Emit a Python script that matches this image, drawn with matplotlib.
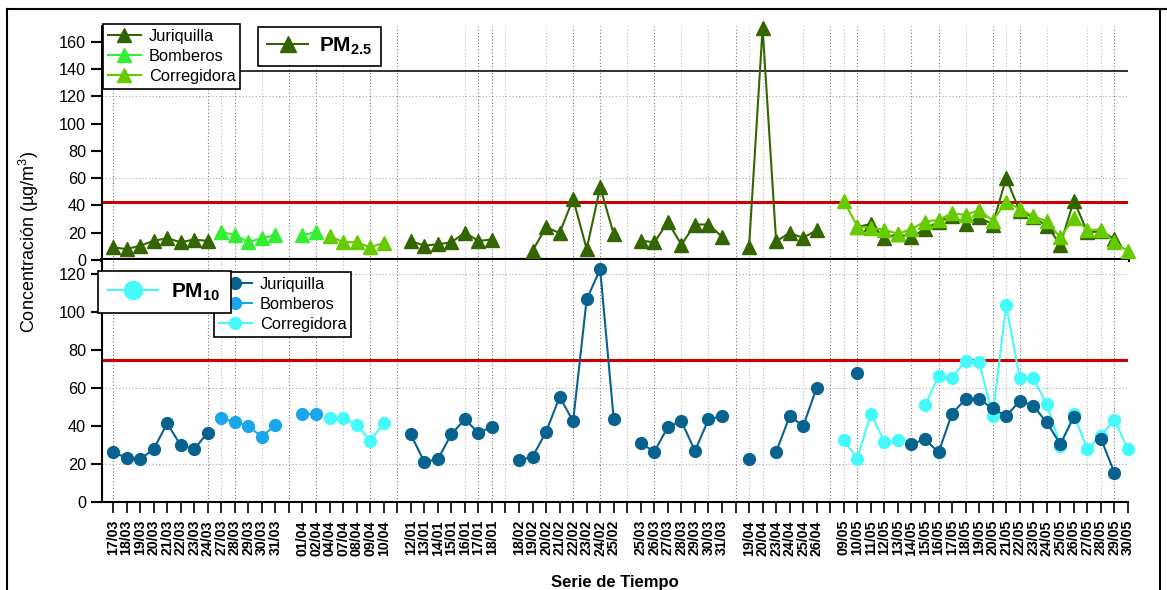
import matplotlib
matplotlib.use('Agg')
import matplotlib.pyplot as plt
import numpy as np
from matplotlib.lines import Line2D

plt.rcParams['font.family'] = ['Liberation Sans', 'DejaVu Sans']
plt.rcParams['mathtext.fontset'] = 'custom'
plt.rcParams['mathtext.rm'] = 'Liberation Sans'
plt.rcParams['mathtext.bf'] = 'Liberation Sans:bold'
plt.rcParams['mathtext.it'] = 'Liberation Sans:italic'

n = np.nan

# x categories ('' = empty slot between sampling campaigns)
fechas = ['17/03', '18/03', '19/03', '20/03', '21/03', '22/03', '23/03', '24/03',
          '27/03', '28/03', '29/03', '30/03', '31/03', '',
          '01/04', '02/04', '04/04', '07/04', '08/04', '09/04', '10/04', '',
          '12/01', '13/01', '14/01', '15/01', '16/01', '17/01', '18/01', '',
          '18/02', '19/02', '20/02', '21/02', '22/02', '23/02', '24/02', '25/02', '',
          '25/03', '26/03', '27/03', '28/03', '29/03', '30/03', '31/03', '',
          '19/04', '20/04', '23/04', '24/04', '25/04', '26/04', '',
          '09/05', '10/05', '11/05', '12/05', '13/05', '14/05', '15/05', '16/05',
          '17/05', '18/05', '19/05', '20/05', '21/05', '22/05', '23/05', '24/05',
          '25/05', '26/05', '27/05', '28/05', '29/05', '30/05']

# PM2.5
jur25 = [9.3, 8, 10.5, 14, 16, 13, 15, 14,
         n, n, n, n, n, n,
         n, n, n, n, n, n, n, n,
         14, 10.5, 11.5, 13, 20, 14, 15, n,
         n, 6.8, 24, 19.8, 44.8, 8, 53.4, 19, n,
         14.2, 13, 27.7, 11.3, 26, 26, 17.1, n,
         9.8, 170, 13.7, 19.8, 16.2, 22, n,
         n, 24, 26.5, 16.2, 19, 16.6, 22.8, 28,
         32, 26.5, 31.3, 26, 60, 35.7, 31.3, 25.2,
         11.3, 43.6, 20.3, 21, 15.4, n]
bom25 = [n, n, n, n, n, n, n, n,
         20.3, 18.6, 13, 16, 18.4, n,
         18.4, 20.3] + [n] * 60
cor25 = [n] * 16 + [17.7, 13, 13, 9.3, 12.5] + [n] * 33 + \
        [43.6, 24.5, 23.5, 22.3, 19.1, 22.8, 28.2, 29.4,
         34.3, 33, 36.8, 28.9, 42.4, 37.5, 32, 28.4,
         16.6, 30.9, 22, 22.3, 13, 6.4]

# PM10
jur10 = [26.1, 23.4, 22.5, 27.8, 41.4, 29.9, 27.8, 36.6,
         n, n, n, n, n, n,
         n, n, n, n, n, n, n, n,
         35.7, 21.1, 22.5, 35.7, 43.6, 36.4, 39.6, n,
         22, 23.8, 36.9, 55.4, 42.6, 106.8, 122.6, 43.5, n,
         31.1, 26.4, 39.6, 42.6, 26.9, 43.5, 45.2, n,
         22.5, n, 26.4, 45.2, 40.1, 60.2, n,
         n, 68.1, n, n, n, 30.4, 33.1, 26.1,
         46.6, 54.2, 54.2, 49.3, 45.2, 53.3, 50.7, 41.9,
         30.4, 44.9, n, 33.4, 15.3, n]
bom10 = [n, n, n, n, n, n, n, n,
         44, 42.2, 40, 34.3, 40.8, n,
         46.3, 46.3] + [n] * 60
cor10 = [n] * 16 + [44, 44, 40.8, 32.2, 41.4] + [n] * 33 + \
        [32.6, 22.9, 46.6, 31.7, 32.6, n, 51, 66.3,
         65.4, 74.4, 73.9, 45.4, 103.8, 65.1, 65.1, 51.6,
         29.6, 46.3, 27.8, 35, 43.1, 27.8]

lim25 = 42.5
lim25_sup = 138.5
lim10 = 75

c_j25, c_b25, c_c25 = '#336600', '#33ee33', '#66cc00'
c_j10, c_b10, c_c10 = '#07628f', '#1aa6ea', '#44fafa'

W, H = 1167, 590
fig = plt.figure(figsize=(W / 100, H / 100), dpi=100)
x0, x1 = 101.5, 1128
ax1 = fig.add_axes([x0 / W, 1 - 260 / H, (x1 - x0) / W, (260 - 26) / H])
ax2 = fig.add_axes([x0 / W, 1 - 502 / H, (x1 - x0) / W, (502 - 260) / H])

x = np.arange(len(fechas))
grid_dark = [0, 7, 9, 13, 15, 19, 21, 27, 28, 34, 36, 40, 46, 53, 55, 59, 61, 65, 67, 74]
grid_light = [8, 11, 17, 26, 29, 32, 38, 42, 44, 47, 48, 51, 54, 57, 63, 66, 69, 72, 73]

for ax in (ax1, ax2):
    for s in grid_dark:
        ax.axvline(s, color='#777777', lw=0.8, ls=(0, (1, 2)), zorder=0)
    for s in grid_light:
        ax.axvline(s, color='#bbbbbb', lw=0.8, ls=(0, (1, 2)), zorder=0)
    ax.spines['top'].set_visible(False)
    ax.spines['right'].set_visible(False)
    ax.spines['left'].set_linewidth(1.5)
    ax.set_xlim(-0.85, 75)
    ax.tick_params(axis='y', direction='out', length=8, width=1.5, labelsize=11.7, pad=3)

for gy in (60, 120):
    ax1.axhline(gy, color='#aaaaaa', lw=0.8, ls=(0, (1, 2)), zorder=0)
for gy in (20, 60, 120):
    ax2.axhline(gy, color='#aaaaaa', lw=0.8, ls=(0, (1, 2)), zorder=0)

# PM2.5 panel
ax1.axhline(lim25_sup, color='#222222', lw=1.3, zorder=1)
ax1.axhline(lim25, color='#cc0000', lw=2.2, zorder=1)
ax1.plot(x, jur25, '-^', color=c_j25, ms=9.5, lw=1.5, zorder=3, clip_on=False)
ax1.plot(x, bom25, '-^', color=c_b25, ms=9.5, lw=1.5, zorder=3, clip_on=False)
ax1.plot(x, cor25, '-^', color=c_c25, ms=9.5, lw=1.5, zorder=4, clip_on=False)
ax1.set_ylim(0, 171.5)
ax1.set_yticks(range(0, 161, 20))
ax1.spines['bottom'].set_linewidth(3)
ax1.set_xticks([])

# PM10 panel
ax2.axhline(lim10, color='#cc0000', lw=2.2, zorder=1)
ax2.plot(x, cor10, '-o', color=c_c10, ms=8.5, lw=1.5, zorder=3, clip_on=False)
ax2.plot(x, bom10, '-o', color=c_b10, ms=8.5, lw=1.5, zorder=3, clip_on=False)
ax2.plot(x, jur10, '-o', color=c_j10, ms=8.5, lw=1.5, zorder=4, clip_on=False)
ax2.set_ylim(0, 127.5)
ax2.set_yticks(range(0, 121, 20))
ax2.spines['bottom'].set_linewidth(1.5)
ax2.set_xticks(x)
ax2.set_xticklabels(fechas, rotation=90, fontweight='bold', fontsize=10.2)
ax2.tick_params(axis='x', direction='out', length=8, width=1.2, pad=5)
ax2.set_xlabel('Serie de Tiempo', fontweight='bold', fontsize=12, labelpad=14)

fig.text(29 / W, 1 - 242 / H, 'Concentración (µg/m$^{3}$)', rotation=90,
         ha='center', va='center', fontsize=13)


def legend(handles, labels, xy, size=11.8, weight='normal', hl=2.0, tp=0.5,
           bp=0.3, z=5):
    leg = fig.legend(handles, labels, loc='upper left',
                     bbox_to_anchor=(xy[0] / W, 1 - xy[1] / H),
                     bbox_transform=fig.transFigure, fancybox=False,
                     edgecolor='black', framealpha=1, handlelength=hl,
                     borderpad=bp, labelspacing=0.3, handletextpad=tp,
                     borderaxespad=0, prop={'size': size, 'weight': weight})
    leg.get_frame().set_linewidth(1.2)
    leg.set_zorder(z)
    return leg


tri = lambda c, ms=9.5: Line2D([], [], color=c, marker='^', ms=ms, lw=1.5)
dot = lambda c, ms=8.5: Line2D([], [], color=c, marker='o', ms=ms, lw=1.5)

legend([tri(c_j25), tri(c_b25), tri(c_c25)], ['Juriquilla', 'Bomberos', 'Corregidora'], (103, 24))
legend([tri(c_j25, 11)], [r'PM$_{\mathbf{2.5}}$'], (258, 27), size=15, weight='bold',
       hl=2.0, bp=0.42)
legend([dot(c_j10), dot(c_b10), dot(c_c10)], ['Juriquilla', 'Bomberos', 'Corregidora'], (214, 272))
legend([dot(c_c10, 13)], [r'PM$_{\mathbf{10}}$'], (98, 271), size=15, weight='bold',
       hl=2.4, tp=0.6, bp=0.5, z=6)

# outer frame
for xs, ys in [((6.5, 1167), (9, 9)), ((6.5, 6.5), (9, 590)), ((1160, 1160), (9, 590))]:
    fig.add_artist(Line2D([v / W for v in xs], [1 - v / H for v in ys],
                          color='black', lw=1.5, transform=fig.transFigure))

fig.savefig('out.png', dpi=100)
